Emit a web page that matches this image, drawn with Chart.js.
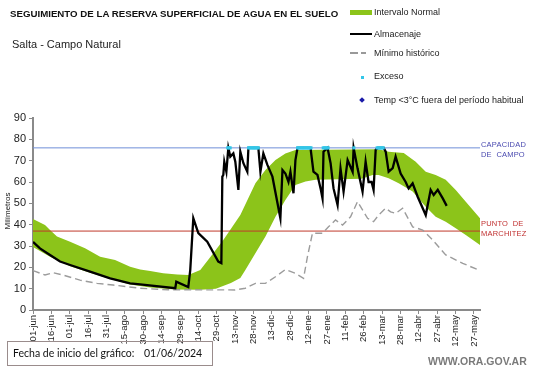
<!DOCTYPE html>
<html>
<head>
<meta charset="utf-8">
<script src="https://cdn.jsdelivr.net/npm/chart.js@4"></script>
<style>
body { margin: 0; width: 541px; height: 368px; position: relative; background: #fff; overflow: hidden;
       font-family: Arial, "Liberation Sans", sans-serif; }
#chart { position: absolute; left: 0; top: 0; }
.txt { position: absolute; white-space: nowrap; line-height: 1; }
.title { left: 10px; top: 9px; font-size: 9.7px; font-weight: bold; color: #111; }
.sub { left: 12px; top: 39px; font-size: 11px; color: #222; }
.leg { left: 374px; font-size: 9px; color: #222; }
.sym { position: absolute; }
.ylab { left: -14px; top: 207px; font-size: 8px; color: #222; transform: rotate(-90deg); width: 44px; text-align: center; }
.side { left: 481px; font-size: 7.5px; letter-spacing: 0.2px; }
.foot { position: absolute; left: 7px; top: 341px; width: 204px; height: 23px; border: 1px solid #9a8c8c;
        font-family: Lato, "Open Sans", sans-serif; font-size: 10.5px; color: #111; }
.web { left: 428px; top: 356px; font-size: 10.5px; font-weight: bold; color: #7a7a7a; }
</style>
</head>
<body>
<canvas id="chart" width="541" height="368"></canvas>

<div class="txt title">SEGUIMIENTO DE LA RESERVA SUPERFICIAL DE AGUA EN EL SUELO</div>
<div class="txt sub">Salta - Campo Natural</div>

<div class="sym" style="left:350px;top:10px;width:22px;height:5px;background:#8cc41a"></div>
<div class="txt leg" style="top:8px">Intervalo Normal</div>
<div class="sym" style="left:350px;top:33px;width:22px;height:2px;background:#000"></div>
<div class="txt leg" style="top:30px">Almacenaje</div>
<div class="sym" style="left:350px;top:52px;width:8px;height:1.5px;background:#999"></div>
<div class="sym" style="left:361px;top:52px;width:5px;height:1.5px;background:#999"></div>
<div class="txt leg" style="top:49px">Mínimo histórico</div>
<div class="sym" style="left:361px;top:76px;width:3px;height:3px;background:#33c6e8"></div>
<div class="txt leg" style="top:72px">Exceso</div>
<div class="sym" style="left:360px;top:98px;width:4px;height:4px;background:#1a1aa8;transform:rotate(45deg)"></div>
<div class="txt leg" style="top:96px">Temp &lt;3°C fuera del período habitual</div>

<div class="txt ylab">Milímetros</div>

<div class="txt side" style="top:141px;color:#4a4ab0">CAPACIDAD</div>
<div class="txt side" style="top:151px;color:#4a4ab0">DE&nbsp; CAMPO</div>
<div class="txt side" style="top:220px;color:#c03030">PUNTO&nbsp; DE</div>
<div class="txt side" style="top:230px;color:#c03030">MARCHITEZ</div>

<div class="foot"><span class="txt" style="left:5px;top:6px">Fecha de inicio del gráfico:</span><span class="txt" style="left:136px;top:6px">01/06/2024</span></div>
<div class="txt web">WWW.ORA.GOV.AR</div>

<script>
// eje x en días desde 01/06/2024
const tickLabels = ["01-jun", "16-jun", "01-jul", "16-jul", "31-jul", "15-ago", "30-ago", "14-sep", "29-sep",
  "14-oct", "29-oct", "13-nov", "28-nov", "13-dic", "28-dic", "12-ene", "27-ene", "11-feb", "26-feb",
  "13-mar", "28-mar", "12-abr", "27-abr", "12-may", "27-may"];

const capacidadCampo = 76;
const puntoMarchitez = 37;

// intervalo normal: [día, mm]
const normalSup = [[0, 42.6], [9.8, 39.8], [13.9, 37.5], [19.6, 34.4], [30.3, 32], [42.5, 28.9], [54.8, 25],
  [67, 23.4], [79.3, 20.3], [87.5, 19], [95.7, 18.3], [106.3, 17.2], [117.8, 16.6], [126.8, 16.4],
  [136.6, 18.7], [147.2, 26.6], [155.4, 32.8], [169.3, 44.5], [181.6, 59.4], [189.8, 65.6], [198, 70.3],
  [206.1, 73.4], [214.3, 75], [282.2, 75.3], [290.4, 74.2], [302.7, 73.6], [312.5, 69.5], [320.7, 64.8],
  [328.8, 63.3], [337, 61], [345.2, 56.3], [353.4, 50.8], [365, 43]];

const normalInf = [[0, 29.5], [13.9, 25], [30.3, 20.5], [46.6, 17.5], [63, 14.5], [79.3, 12], [95.7, 10.5],
  [116, 9.6], [136.6, 9.5], [149.3, 10], [161.6, 12.6], [169.3, 15], [173.4, 18.7], [181.6, 26.6],
  [189.8, 34.4], [198, 43.7], [206.1, 51.6], [214.3, 58.6], [222.5, 60.2], [230.7, 61], [268.3, 61.5],
  [277.3, 63.3], [282.2, 63.3], [290.4, 61.7], [298.6, 59.4], [310, 55.5], [320.7, 48.4], [328.8, 43.7],
  [337, 41.4], [345.2, 38.3], [353.4, 35.2], [365, 30.5]];

const almacenaje = [[0, 31.9], [5.7, 28.9], [13.9, 25.8], [22.1, 22.7], [30.3, 21.1], [46.6, 18], [63, 14.8],
  [79.3, 12.5], [87.5, 12], [116.2, 10.2], [117, 13.3], [126.8, 10.8], [128.4, 18.7], [130.9, 43], [135, 36],
  [142.3, 32], [151.3, 22.7], [153.8, 22], [154.6, 62.5], [155.4, 63.3], [156.2, 69.5], [157.9, 64.8],
  [159.5, 76], [161.1, 71.9], [163.6, 73.4], [165.2, 69.5], [167.7, 56.3], [169.3, 74.2], [171.8, 68.8],
  [175, 64.8], [175.9, 76], [184, 76], [185.7, 64.8], [188.1, 73.4], [191.4, 68], [195.5, 62.5], [202, 43],
  [203.7, 65.6], [206.1, 64], [208.6, 60], [210.2, 64.8], [212.7, 54.7], [214.3, 70.3], [216, 76],
  [226.6, 76], [229, 64.8], [232.3, 63.3], [234.8, 57], [236.4, 52.3], [237.2, 74.2], [240.5, 76],
  [243, 68.8], [245.4, 57], [248.7, 49.2], [251.1, 66.4], [253.6, 55.5], [256.9, 70.3], [261, 64.8],
  [261.8, 76], [265, 66.4], [269.1, 55.5], [271.6, 69.5], [274, 60], [276.5, 60], [278.1, 56.3],
  [279.8, 75], [281.4, 76], [286.3, 76], [288, 74.2], [290.4, 64.8], [293.7, 66.5], [296.1, 71.9],
  [300.2, 64], [304.3, 60], [306.7, 57], [310, 59.4], [314.1, 53.1], [320.7, 44.5], [324.7, 56.3],
  [327.2, 53.9], [330.5, 56.3], [334.6, 52.3], [337.8, 48.8]];

const minimoHistorico = [[0, 18.5], [9.8, 16.4], [16.4, 17.5], [24.5, 16.4], [38.4, 14], [52.3, 12.5],
  [65.4, 11.7], [87.5, 10.2], [110, 9.5], [165, 9.4], [173.4, 10.2], [181.6, 12.5], [189.8, 12.5],
  [198, 15.6], [206.1, 19], [214.3, 17.2], [220.9, 14.8], [224.1, 25], [228.2, 36], [236.4, 36],
  [241.3, 39], [247, 42.2], [252.8, 39.8], [259.3, 43.7], [265, 50.8], [273.2, 43], [278.1, 41.4],
  [282.2, 44.5], [288, 47.7], [292, 46], [296.1, 45.3], [301.8, 47.7], [310, 39], [318.2, 37.5],
  [326.4, 32.8], [337, 25.8], [350.9, 21.9], [364, 18.7]];

// días con exceso (almacenaje en capacidad de campo)
const excesoDias = [159, 160, 161, 176, 177, 178, 179, 180, 181, 182, 183, 184, 216, 217, 218, 219, 220,
  221, 222, 223, 224, 225, 226, 227, 237, 238, 239, 240, 241, 262, 281, 282, 283, 284, 285, 286];

const toXY = arr => arr.map(p => ({ x: p[0], y: p[1] }));

const ctx = document.getElementById("chart").getContext("2d");
new Chart(ctx, {
  type: "line",
  data: {
    datasets: [
      {
        label: "Exceso",
        data: excesoDias.map(d => ({ x: d, y: capacidadCampo })),
        showLine: false,
        pointStyle: "rect",
        pointRadius: 2.2,
        pointBackgroundColor: "#33c6e8",
        pointBorderWidth: 0
      },
      {
        label: "Almacenaje",
        data: toXY(almacenaje),
        borderColor: "#000",
        borderWidth: 2.3,
        pointRadius: 0,
        fill: false
      },
      {
        label: "Mínimo histórico",
        data: toXY(minimoHistorico),
        borderColor: "#9c9c9c",
        borderWidth: 1.4,
        borderDash: [7, 4],
        pointRadius: 0,
        fill: false
      },
      {
        label: "Capacidad de campo",
        data: [{ x: 0, y: capacidadCampo }, { x: 365, y: capacidadCampo }],
        borderColor: "#6f8fd8",
        borderWidth: 1,
        pointRadius: 0,
        fill: false
      },
      {
        label: "Punto de marchitez",
        data: [{ x: 0, y: puntoMarchitez }, { x: 365, y: puntoMarchitez }],
        borderColor: "#c0392b",
        borderWidth: 1,
        pointRadius: 0,
        fill: false
      },
      {
        label: "Intervalo Normal",
        data: toXY(normalSup),
        borderWidth: 0,
        borderColor: "rgba(0,0,0,0)",
        backgroundColor: "#8cc41a",
        pointRadius: 0,
        fill: "+1"
      },
      {
        label: "inferior",
        data: toXY(normalInf),
        borderWidth: 0,
        borderColor: "rgba(0,0,0,0)",
        pointRadius: 0,
        fill: false
      }
    ]
  },
  options: {
    responsive: false,
    animation: false,
    devicePixelRatio: 1,
    layout: { padding: { left: 0, top: 118, right: 61, bottom: 18 } },
    plugins: {
      legend: { display: false },
      tooltip: { enabled: false }
    },
    scales: {
      x: {
        type: "linear",
        min: 0,
        max: 365,
        // un tick cada 15 días, uno por etiqueta
        afterBuildTicks: s => { s.ticks = tickLabels.map((lab, i) => ({ value: i * 15 })); },
        afterFit: s => { s.height = 40; },
        ticks: {
          autoSkip: false,
          minRotation: 90,
          maxRotation: 90,
          padding: 1,
          color: "#222",
          font: { family: "Arial, 'Liberation Sans'", size: 9.5 },
          callback: v => tickLabels[Math.round(v / 15)]
        },
        grid: { drawOnChartArea: false, tickLength: 4, color: "#8a8a8a" },
        border: { color: "#8a8a8a", width: 2 }
      },
      y: {
        min: 0,
        max: 90,
        afterFit: s => { s.width = 33; },
        ticks: {
          stepSize: 10,
          padding: 3,
          color: "#222",
          font: { family: "Arial, 'Liberation Sans'", size: 11 }
        },
        grid: { drawOnChartArea: false, tickLength: 4, color: "#8a8a8a" },
        border: { color: "#8a8a8a", width: 2 }
      }
    }
  }
});
</script>
</body>
</html>
